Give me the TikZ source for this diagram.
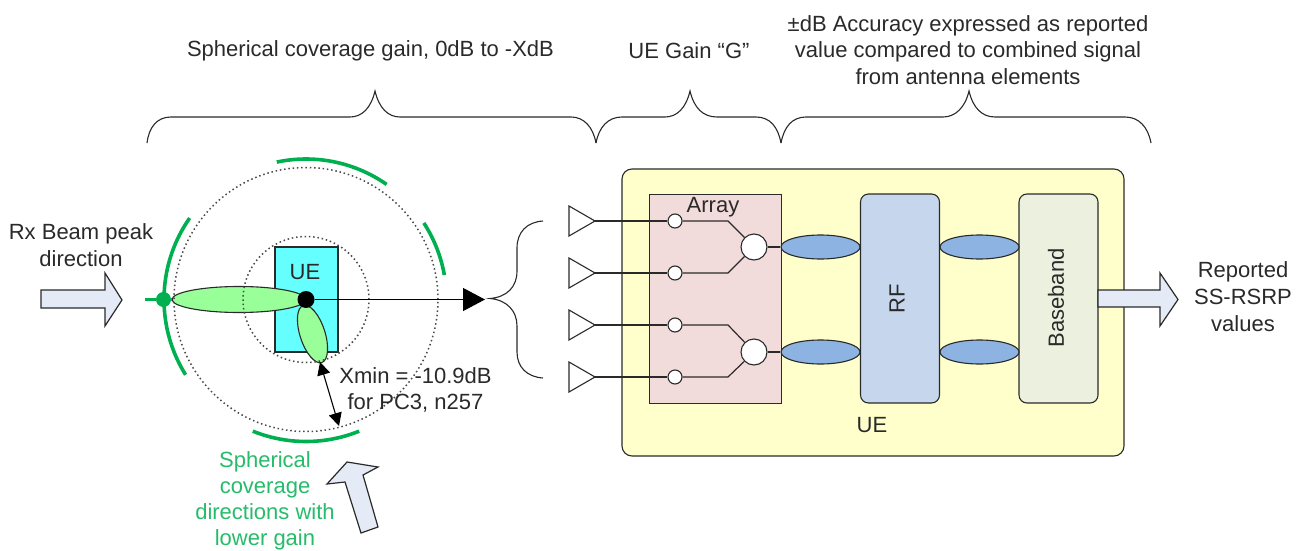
\documentclass[tikz,border=0pt]{standalone}
\usepackage{fontspec}
\setmainfont{Liberation Sans}
\usetikzlibrary{shapes.geometric,arrows.meta,calc}
\definecolor{cgreen}{HTML}{00B050}
\definecolor{lobe}{HTML}{99FF99}
\definecolor{uecyan}{HTML}{66FFFF}
\definecolor{blockarrow}{HTML}{E4EAF6}
\definecolor{uebox}{HTML}{FFFFCC}
\definecolor{arraybox}{HTML}{F2DCDB}
\definecolor{rfbox}{HTML}{C6D6EC}
\definecolor{bbbox}{HTML}{EBF1DE}
\definecolor{oval}{HTML}{8DB3E2}
\definecolor{ink}{HTML}{2A2A2A}
\tikzset{
  lbl/.style={font=\fontsize{22}{26.7}\selectfont,text=ink,inner sep=0pt,align=center},
  glbl/.style={lbl,font=\fontsize{22}{26}\selectfont,text=cgreen!85!white},
  brace/.style={draw=ink,line width=1.1pt},
  wire/.style={draw=ink,line width=1.2pt},
  tri/.style={draw=ink,fill=white,line width=1.1pt},
  blockarr/.style={draw=ink,fill=blockarrow,line width=1.2pt,line join=miter},
  gap/.style={draw=cgreen,line width=3.6pt},
  dots/.style={draw=ink!85!white,line width=1.5pt,dash pattern=on 1.5pt off 2.8pt},
  lobeshape/.style={ellipse,draw=ink,fill=lobe,line width=1.1pt,inner sep=0pt},
  smallc/.style={circle,draw=ink,fill=white,line width=1.1pt,minimum size=14pt,inner sep=0pt},
  bigc/.style={circle,draw=ink,fill=white,line width=1.1pt,minimum size=26pt,inner sep=0pt},
  ovalnode/.style={ellipse,draw=ink,fill=oval,line width=1.1pt,minimum width=79pt,minimum height=24pt,inner sep=0pt},
}
\begin{document}
\begin{tikzpicture}[x=1pt,y=-1pt]
\path[use as bounding box] (0,0) rectangle (1303,551);
\clip (0,0) rectangle (1303,551);
\fill[white] (0,0) rectangle (1303,551);
% top labels
\node[lbl] (t1) at (370.5,51) {Spherical coverage gain, 0dB to -XdB};
\node[lbl] (t2) at (689,51) {UE Gain “G”};
\node[lbl] (t3) at (968,50) {±dB Accuracy expressed as reported\\value compared to combined signal\\from antenna elements};
% top braces
\draw[brace] (147,143) .. controls (149,127) and (157,117) .. (171,117) -- (350,117) .. controls (362,117) and (371,108) .. (375,91) .. controls (379,108) and (388,117) .. (400,117) -- (571,117) .. controls (584,117) and (593,127) .. (596,143);
\draw[brace] (596,143) .. controls (599,127) and (608,117) .. (622,117) -- (665,117) .. controls (677,117) and (686,108) .. (690,91) .. controls (694,108) and (703,117) .. (717,117) -- (756,117) .. controls (770,117) and (778,127) .. (781,143);
\draw[brace] (781,143) .. controls (784,127) and (792,117) .. (806,117) -- (943,117) .. controls (955,117) and (965,108) .. (969,91) .. controls (973,108) and (982,117) .. (995,117) -- (1125,117) .. controls (1139,117) and (1148,127) .. (1151,143);
% UE device
\node[draw=ink,fill=uecyan,line width=1.1pt,minimum width=63pt,minimum height=105pt,inner sep=0pt] (uedev) at (306.5,299.5) {};
\node[lbl] (uedevl) at (305,272) {UE};
% lobes
\node[lobeshape,minimum width=134pt,minimum height=26pt] (lobe1) at (239,299.5) {};
\node[lobeshape,minimum width=60pt,minimum height=25pt,rotate=-72] (lobe2) at (312.5,334) {};
% dotted circles
\coordinate (cc) at (306,299.5);
\draw[dots] (cc) circle[radius=63pt];
\draw[dots] (cc) circle[radius=132pt];
% green arcs
\draw[gap] plot[domain=148:215,samples=40] ({306+142*cos(\x)},{299.5+142*sin(\x)});
\draw[gap] plot[domain=-102:-55,samples=30] ({306+140.5*cos(\x)},{299.5+140.5*sin(\x)});
\draw[gap] plot[domain=-33:-10,samples=20] ({306+140.5*cos(\x)},{299.5+140.5*sin(\x)});
\draw[gap] plot[domain=68:112,samples=30] ({306+142*cos(\x)},{299.5+142*sin(\x)});
\coordinate (gstart) at (145,299.5);
\coordinate (gend) at (172,299.5);
\node[circle,fill=cgreen,minimum size=15pt,inner sep=0pt] (gdot) at (163.5,299.5) {};
\draw[cgreen,line width=2.2pt] (gstart) -- (gdot);
\draw[cgreen,line width=2.2pt] (gdot) -- (gend);
% axis arrow
\node[circle,fill=black,minimum size=17pt,inner sep=0pt] (peak) at (306,299.5) {};
\coordinate (axisend) at (485,299.5);
\draw[black,line width=1.2pt,-{Triangle[length=22pt,width=23pt]}] (peak) -- (axisend);
% xmin arrow
\coordinate (xa) at (320,362);
\coordinate (xb) at (339,426);
\draw[black,line width=1.1pt,{Triangle[length=13pt,width=13pt]}-{Triangle[length=13pt,width=13pt]}] (xa) -- (xb);
\node[lbl] (xmin) at (415.5,390) {Xmin = -10.9dB\\for PC3, n257};
% left block arrow & labels
\node[lbl] (rx) at (81,245) {Rx Beam peak\\direction};
\draw[blockarr] (41,290) -- (105,290) -- (105,273) -- (122,300) -- (105,326) -- (105,308) -- (41,308) -- cycle;
% bottom block arrow & label
\node[glbl,anchor=north] (sph) at (265,451) {Spherical\\coverage\\directions with\\lower gain};
\draw[blockarr] (361,533) -- (378,527) -- (363,475) -- (378,467) -- (347,462) -- (327,484) -- (345,482) -- cycle;
% left curly brace
\draw[brace] (543,221) .. controls (527,222) and (517,232) .. (517,248) -- (517,271) .. controls (517,287) and (507,297) .. (490,298.5) .. controls (507,300) and (517,311) .. (517,326) -- (517,352) .. controls (517,367) and (527,377) .. (543,378);
% UE box
\draw[draw=ink,fill=uebox,line width=1.1pt,rounded corners=10pt] (622,169) rectangle (1124,456);
\node[lbl] (uelbl) at (872,425) {UE};
\draw[draw=ink,fill=arraybox,line width=1pt] (649,194) rectangle (781,403);
\node[lbl] (arr) at (713,207) {Array};
% RF and BB
\node[draw=ink,fill=rfbox,line width=1.1pt,rounded corners=8pt,minimum width=79pt,minimum height=209pt,inner sep=0pt] (rf) at (900,298.5) {};
\node[lbl,rotate=90] (rflbl) at (897,299) {RF};
\node[draw=ink,fill=bbbox,line width=1.1pt,rounded corners=8pt,minimum width=79pt,minimum height=209pt,inner sep=0pt] (bb) at (1058.5,298.5) {};
\node[lbl,rotate=90] (bblbl) at (1056,298) {Baseband};
% ovals
\node[ovalnode] (o1) at (820.5,247) {};
\node[ovalnode] (o2) at (820.5,352) {};
\node[ovalnode] (o3) at (979.5,247) {};
\node[ovalnode] (o4) at (979.5,352) {};
% combiners
\node[bigc] (c1) at (754,247) {};
\node[bigc] (c2) at (754,352) {};
\draw[wire] (c1) -- (o1);
\draw[wire] (c2) -- (o2);
\foreach \i/\yy/\cc in {1/221/c1,2/273/c1,3/325/c2,4/377/c2}{
  \coordinate (ta\i) at (569,\yy-15);
  \coordinate (tb\i) at (569,\yy+15);
  \coordinate (tip\i) at (595,\yy);
  \draw[tri] (ta\i) -- (tip\i) -- (tb\i) -- cycle;
  \node[smallc] (s\i) at (675,\yy) {};
  \coordinate (k\i) at (728,\yy);
  \draw[wire] (tip\i) -- (s\i);
  \draw[wire] (s\i) -- (k\i) -- (\cc);
}
% output block arrow
\node[lbl] (rep) at (1243,296.5) {Reported\\SS-RSRP\\values};
\draw[blockarr] (1098,290) -- (1160,290) -- (1160,273) -- (1178,299.5) -- (1160,326) -- (1160,307) -- (1098,307) -- cycle;
\end{tikzpicture}
\end{document}
